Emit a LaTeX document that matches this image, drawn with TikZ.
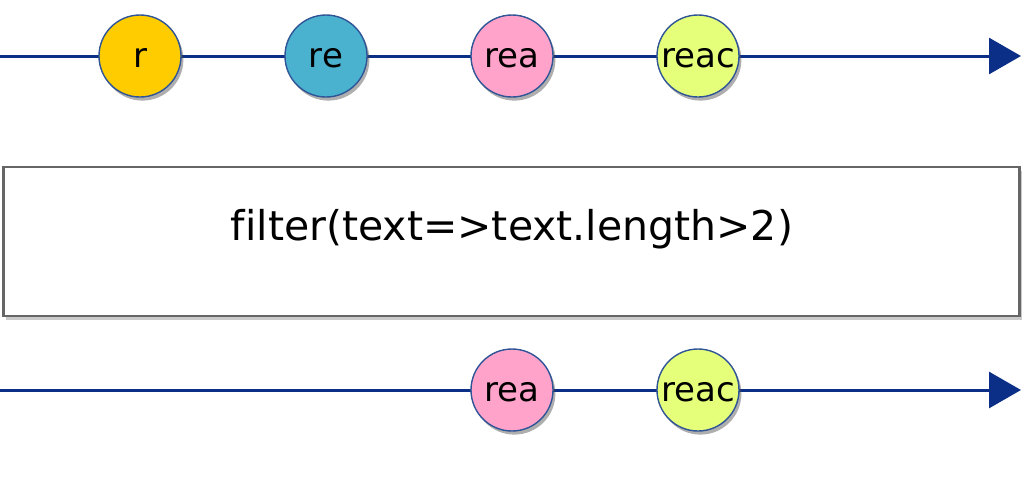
\documentclass[tikz,border=0pt]{standalone}
\usepackage{fontspec}
\setmainfont[Ligatures=NoCommon]{DejaVu Sans}
\usetikzlibrary{arrows.meta,shadows}
\definecolor{timeline}{HTML}{0B2F86}
\definecolor{rimblue}{HTML}{2F5597}
\definecolor{mYellow}{HTML}{FFCC00}
\definecolor{mBlue}{HTML}{4AB2CF}
\definecolor{mPink}{HTML}{FFA3CB}
\definecolor{mLime}{HTML}{E6FF7A}
\tikzset{
  line/.style={timeline,line width=1.5pt,-{Triangle[length=16pt,width=18pt]}},
  marble/.style={circle,draw=rimblue,line width=0.7pt,minimum size=41pt,inner sep=0pt,
    font=\fontsize{17}{20}\selectfont,text height=11.3pt,text depth=0pt,
    drop shadow={shadow xshift=1.2pt,shadow yshift=-1.8pt,opacity=0.45,fill=black!70}},
  opbox/.style={draw=black!60,line width=1.4pt,fill=white,minimum width=508pt,minimum height=74.5pt,
    drop shadow={shadow xshift=1pt,shadow yshift=-2.2pt,opacity=0.35,fill=black!60}},
  optext/.style={font=\fontsize{20.5}{24}\selectfont}
}
\begin{document}
\begin{tikzpicture}[x=0.5pt,y=-0.5pt]
\useasboundingbox (0,0) rectangle (1024,484);
% --- input stream ---
\coordinate (inS) at (0,56);
\coordinate (inE) at (1021,56);
\draw[line] (inS) -- (inE);
\node[marble,fill=mYellow] (in1) at (140,56) {r};
\node[marble,fill=mBlue] (in2) at (326,56) {re};
\node[marble,fill=mPink] (in3) at (512,56) {rea};
\node[marble,fill=mLime] (in4) at (698,56) {reac};
% --- operator ---
\node[opbox] (op) at (511.5,241.5) {};
\node[optext] (optxt) at (512,229) {filter(text=>text.length>2)};
% --- output stream ---
\coordinate (outS) at (0,390);
\coordinate (outE) at (1021,390);
\draw[line] (outS) -- (outE);
\node[marble,fill=mPink] (out3) at (512,390) {rea};
\node[marble,fill=mLime] (out4) at (698,390) {reac};
\end{tikzpicture}
\end{document}
